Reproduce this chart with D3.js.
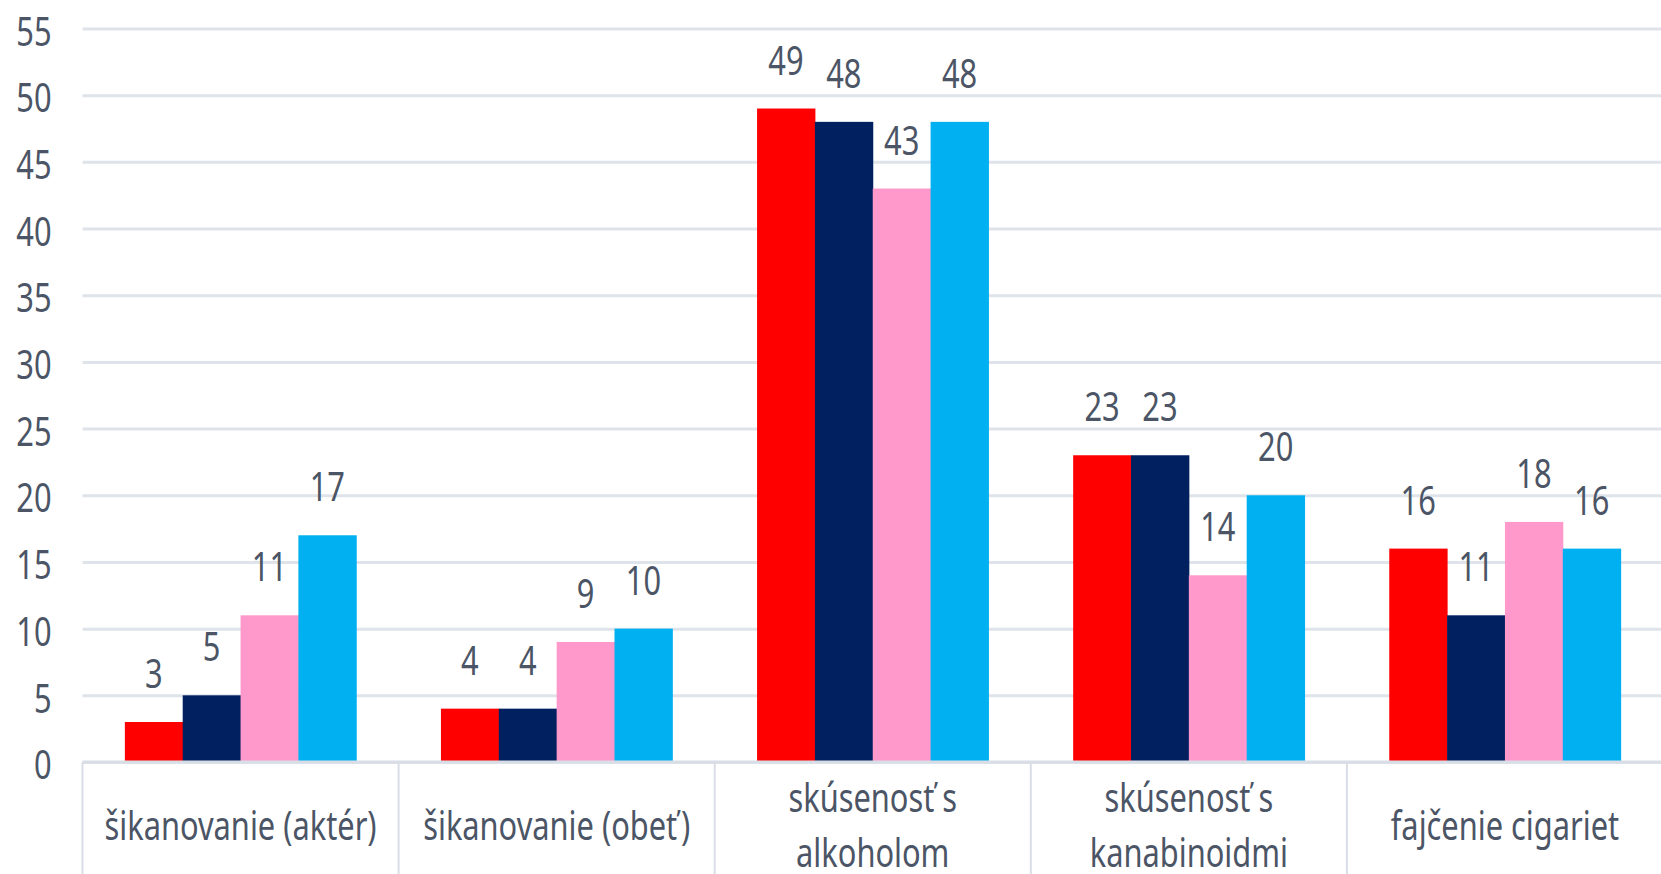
<!DOCTYPE html>
<html>
<head>
<meta charset="utf-8">
<script src="https://cdn.jsdelivr.net/npm/d3@7"></script>
<style>
  html, body { margin: 0; padding: 0; background: #ffffff; }
  svg { display: block; }
  text { font-family: "Noto Sans", "Open Sans", sans-serif; fill: #4b5566; }
</style>
</head>
<body>
<svg id="chart" width="1661" height="874"></svg>
<script>
// Chart data
const categories = [
  "šikanovanie (aktér)",
  "šikanovanie (obeť)",
  "skúsenosť s alkoholom",
  "skúsenosť s kanabinoidmi",
  "fajčenie cigariet"
];
// how each category label wraps under the axis
const categoryLines = [
  ["šikanovanie (aktér)"],
  ["šikanovanie (obeť)"],
  ["skúsenosť s", "alkoholom"],
  ["skúsenosť s", "kanabinoidmi"],
  ["fajčenie cigariet"]
];
const seriesNames = ["séria 1", "séria 2", "séria 3", "séria 4"];
const series1 = [3, 4, 49, 23, 16];
const series2 = [5, 4, 48, 23, 11];
const series3 = [11, 9, 43, 14, 18];
const series4 = [17, 10, 48, 20, 16];
const yTicks = [0, 5, 10, 15, 20, 25, 30, 35, 40, 45, 50, 55];

const colors = ["#ff0000", "#002060", "#ff99cc", "#00b0f0"];
const allSeries = [series1, series2, series3, series4];

const svg = d3.select('#chart');
const width = +svg.attr('width');
const height = +svg.attr('height');

// the margin convention
const margin = { top: 28.5, right: -2, bottom: 112, left: 82.5 };
const innerWidth = width - margin.left - margin.right;
const innerHeight = height - margin.top - margin.bottom;

// rows of values, one per category
const data = categories.map((c, i) => ({
  category: c,
  lines: categoryLines[i],
  values: allSeries.map((s, j) => ({ name: seriesNames[j], value: s[i], color: colors[j] }))
}));

const xScale = d3.scaleBand()
  .domain(categories)
  .range([0, innerWidth])
  .padding(0);

const bw = xScale.bandwidth();
const xInner = d3.scaleBand()
  .domain(seriesNames)
  .range([bw * 0.134, bw * 0.866])
  .padding(0);

const yScale = d3.scaleLinear()
  .domain([0, 55])
  .range([innerHeight, 0]);

const g = svg.append('g')
  .attr('transform', `translate(${margin.left}, ${margin.top})`);

// gridlines and y labels
const yAxis = g.append('g')
  .call(d3.axisLeft(yScale).tickValues(yTicks).tickSize(-innerWidth).tickPadding(0));

yAxis.select('.domain').remove();
yAxis.selectAll('.tick line')
  .attr('stroke', '#dfe3ea')
  .attr('stroke-width', 3);
yAxis.selectAll('.tick text')
  .attr('x', null)
  .attr('dy', null)
  .attr('dominant-baseline', 'central')
  .attr('text-anchor', 'end')
  .attr('transform', 'translate(-31, 1) scale(0.77, 1)')
  .style('font-size', '40px')
  .style('font-family', '"Noto Sans", sans-serif')
  .attr('fill', '#4b5566');

// bars
const groups = g.selectAll('.group').data(data)
  .enter().append('g')
  .attr('class', 'group')
  .attr('transform', d => `translate(${xScale(d.category)}, 0)`);

groups.selectAll('rect').data(d => d.values)
  .enter().append('rect')
  .attr('x', d => xInner(d.name))
  .attr('y', d => yScale(d.value))
  .attr('width', xInner.bandwidth() + 0.5)
  .attr('height', d => innerHeight - yScale(d.value))
  .attr('fill', d => d.color);

// value labels above bars
groups.selectAll('.val').data(d => d.values)
  .enter().append('text')
  .attr('class', 'val')
  .attr('text-anchor', 'middle')
  .attr('transform', d => `translate(${xInner(d.name) + xInner.bandwidth() / 2}, ${yScale(d.value) - 34}) scale(0.77, 1)`)
  .style('font-size', '40px')
  .text(d => d.value);

// x axis line and category separators
g.append('line')
  .attr('x1', 0).attr('x2', innerWidth)
  .attr('y1', innerHeight).attr('y2', innerHeight)
  .attr('stroke', '#d9dee6')
  .attr('stroke-width', 3);

g.selectAll('.sep').data(categories)
  .enter().append('line')
  .attr('class', 'sep')
  .attr('x1', d => xScale(d)).attr('x2', d => xScale(d))
  .attr('y1', innerHeight).attr('y2', height)
  .attr('stroke', '#d9dee6')
  .attr('stroke-width', 2);

// category labels
const labelCenter = innerHeight + 62;
const lineGap = 55;
groups.each(function (d) {
  const n = d.lines.length;
  d3.select(this).selectAll('.cat').data(d.lines)
    .enter().append('text')
    .attr('class', 'cat')
    .attr('text-anchor', 'middle')
    .attr('dominant-baseline', 'central')
    .attr('transform', (t, i) => `translate(${bw / 2}, ${labelCenter + (i - (n - 1) / 2) * lineGap}) scale(0.77, 1)`)
    .style('font-size', '40px')
    .text(t => t);
});
</script>
</body>
</html>
